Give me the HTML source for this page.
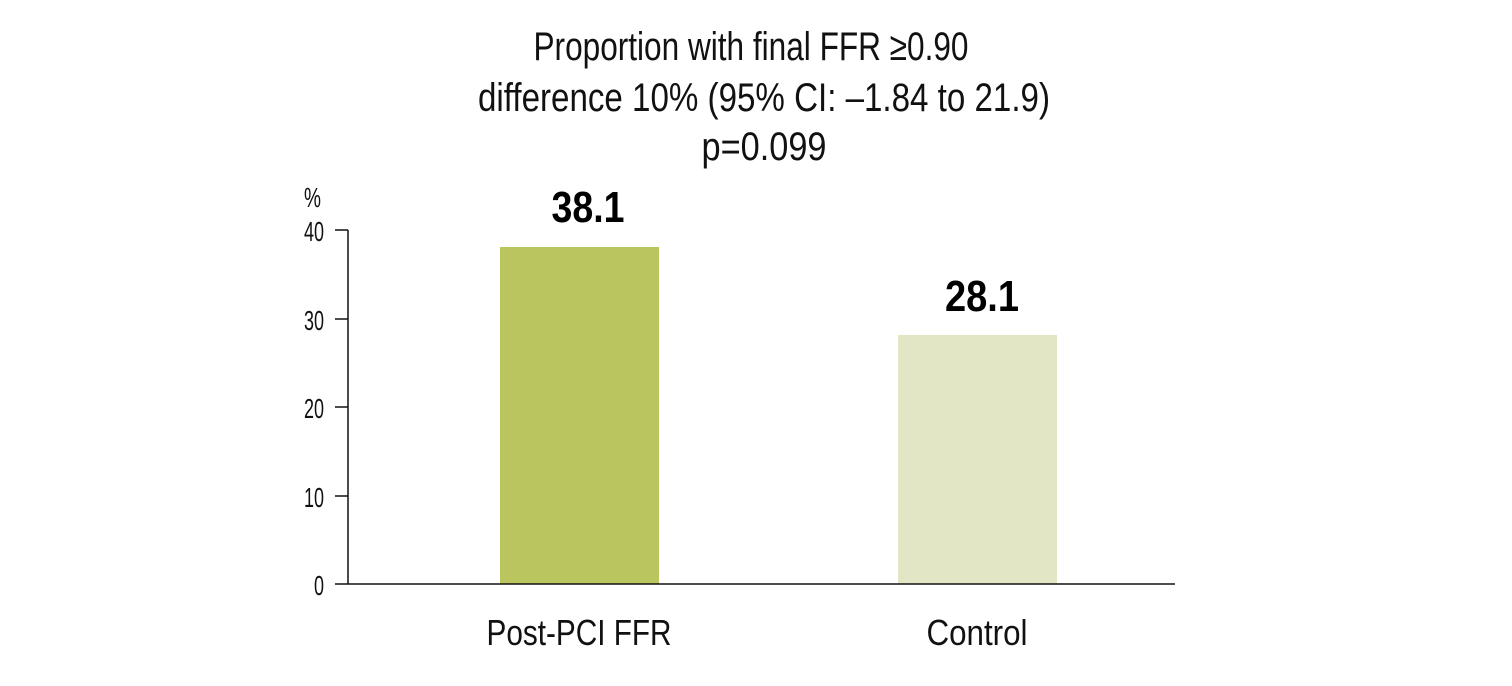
<!DOCTYPE html>
<html><head><meta charset="utf-8"><style>html,body{margin:0;padding:0;background:#fff}svg{display:block}</style></head>
<body>
<svg width="1512" height="686" xmlns="http://www.w3.org/2000/svg" font-family="'Liberation Sans Narrow','Liberation Sans',sans-serif">
<g font-size="40" text-anchor="middle" fill="#111">
<text x="751" y="60" textLength="435" lengthAdjust="spacingAndGlyphs">Proportion with final FFR ≥0.90</text>
<text x="764" y="111" textLength="572" lengthAdjust="spacingAndGlyphs">difference 10% (95% CI: –1.84 to 21.9)</text>
<text x="764" y="160" textLength="125" lengthAdjust="spacingAndGlyphs">p=0.099</text>
</g>
<rect x="500" y="247" width="159" height="337" fill="#bbc55e"/>
<rect x="898" y="335" width="159" height="249" fill="#e2e6c4"/>
<g stroke="#111" stroke-width="1.5">
<line x1="348" y1="230" x2="348" y2="584"/>
<line x1="348" y1="584" x2="1175" y2="584"/>
<line x1="335" y1="230" x2="348" y2="230"/>
<line x1="335" y1="319" x2="348" y2="319"/>
<line x1="335" y1="407" x2="348" y2="407"/>
<line x1="335" y1="496" x2="348" y2="496"/>
<line x1="335" y1="584" x2="348" y2="584"/>
</g>
<g font-size="28" text-anchor="end" fill="#111">
<text x="324" y="241" textLength="20" lengthAdjust="spacingAndGlyphs">40</text>
<text x="324" y="330" textLength="20" lengthAdjust="spacingAndGlyphs">30</text>
<text x="324" y="418" textLength="20" lengthAdjust="spacingAndGlyphs">20</text>
<text x="324" y="507" textLength="20" lengthAdjust="spacingAndGlyphs">10</text>
<text x="324" y="595" textLength="10" lengthAdjust="spacingAndGlyphs">0</text>
<text x="321" y="207" textLength="17" lengthAdjust="spacingAndGlyphs">%</text>
</g>
<g font-size="44" font-weight="bold" text-anchor="middle" fill="#000">
<text x="588" y="222" textLength="73" lengthAdjust="spacingAndGlyphs">38.1</text>
<text x="982" y="311" textLength="74" lengthAdjust="spacingAndGlyphs">28.1</text>
</g>
<g font-size="36" text-anchor="middle" fill="#111">
<text x="579" y="645" textLength="185" lengthAdjust="spacingAndGlyphs">Post-PCI FFR</text>
<text x="977" y="645" textLength="101" lengthAdjust="spacingAndGlyphs">Control</text>
</g>
</svg>
</body></html>
